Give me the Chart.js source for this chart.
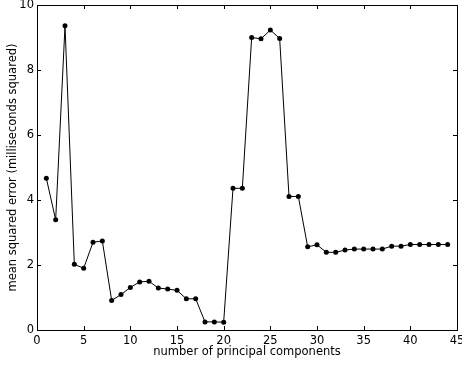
<!DOCTYPE html>
<html>
<head>
<meta charset="utf-8">
<script src="https://cdn.jsdelivr.net/npm/chart.js@4/dist/chart.umd.min.js"></script>
<style>
  html, body { margin: 0; padding: 0; background: #fff; overflow: hidden; }
  #box { width: 462px; height: 367px; }
</style>
</head>
<body>
<div id="box"><canvas id="myChart"></canvas></div>
<script>
// number of principal components
const components = [1, 2, 3, 4, 5, 6, 7, 8, 9, 10, 11, 12, 13, 14, 15, 16, 17, 18, 19, 20, 21, 22,
  23, 24, 25, 26, 27, 28, 29, 30, 31, 32, 33, 34, 35, 36, 37, 38, 39, 40, 41, 42, 43, 44];
// mean squared error (ms^2)
const mse = [4.67, 3.39, 9.36, 2.02, 1.90, 2.70, 2.74, 0.91, 1.09, 1.31, 1.48, 1.50, 1.29, 1.26, 1.22,
  0.96, 0.96, 0.25, 0.25, 0.24, 4.36, 4.36, 9.00, 8.96, 9.23, 8.97, 4.11, 4.11, 2.56, 2.62, 2.39,
  2.39, 2.46, 2.49, 2.49, 2.49, 2.49, 2.58, 2.58, 2.63, 2.63, 2.63, 2.63, 2.63];
const xTicks = [0, 5, 10, 15, 20, 25, 30, 35, 40, 45];
const yTicks = [0, 2, 4, 6, 8, 10];

const font = { family: 'DejaVu Sans', size: 11.5 };

// matplotlib-style frame with ticks pointing inward
const frame = {
  id: 'frame',
  afterDraw(chart) {
    const ctx = chart.ctx;
    const a = chart.chartArea;
    const x = chart.scales.x, y = chart.scales.y;
    const len = 4;
    ctx.save();
    ctx.strokeStyle = '#000';
    ctx.lineWidth = 1;
    ctx.beginPath();
    xTicks.forEach(v => {
      const px = Math.round(x.getPixelForValue(v)) + 0.5;
      ctx.moveTo(px, a.bottom); ctx.lineTo(px, a.bottom - len);
      ctx.moveTo(px, a.top); ctx.lineTo(px, a.top + len);
    });
    yTicks.forEach(v => {
      const py = Math.round(y.getPixelForValue(v)) + 0.5;
      ctx.moveTo(a.left, py); ctx.lineTo(a.left + len, py);
      ctx.moveTo(a.right, py); ctx.lineTo(a.right - len, py);
    });
    ctx.stroke();
    ctx.strokeRect(Math.round(a.left) + 0.5, Math.round(a.top) + 0.5,
      Math.round(a.right - a.left), Math.round(a.bottom - a.top));
    ctx.restore();
  }
};

new Chart(document.getElementById('myChart'), {
  type: 'line',
  data: {
    datasets: [{
      data: components.map((c, i) => ({ x: c, y: mse[i] })),
      borderColor: '#000',
      backgroundColor: '#000',
      borderWidth: 1,
      pointRadius: 2.5,
      pointBorderWidth: 0,
      tension: 0
    }]
  },
  options: {
    responsive: true,
    maintainAspectRatio: false,
    animation: false,
    events: [],
    layout: { padding: { top: 5, right: 5, left: 0, bottom: 0 } },
    plugins: { legend: { display: false }, tooltip: { enabled: false } },
    scales: {
      x: {
        type: 'linear',
        min: 0, max: 45,
        afterBuildTicks: s => { s.ticks = xTicks.map(v => ({ value: v })); },
        afterFit: s => { s.height = 37; s.paddingLeft = 0; s.paddingRight = 0; },
        grid: { display: false, drawTicks: false },
        border: { display: false },
        ticks: { color: '#000', font: font, padding: 4, maxRotation: 0 },
        title: {
          display: true, text: 'number of principal components',
          color: '#000', font: font, padding: { top: 0, bottom: 8 }
        }
      },
      y: {
        type: 'linear',
        min: 0, max: 10,
        afterBuildTicks: s => { s.ticks = yTicks.map(v => ({ value: v })); },
        afterFit: s => { s.width = 37; s.paddingTop = 0; s.paddingBottom = 0; },
        grid: { display: false, drawTicks: false },
        border: { display: false },
        ticks: { color: '#000', font: font, padding: 3 },
        title: {
          display: true, text: 'mean squared error (milliseconds squared)',
          color: '#000', font: font, padding: { top: 6, bottom: 0 }
        }
      }
    }
  },
  plugins: [frame]
});
</script>
</body>
</html>
